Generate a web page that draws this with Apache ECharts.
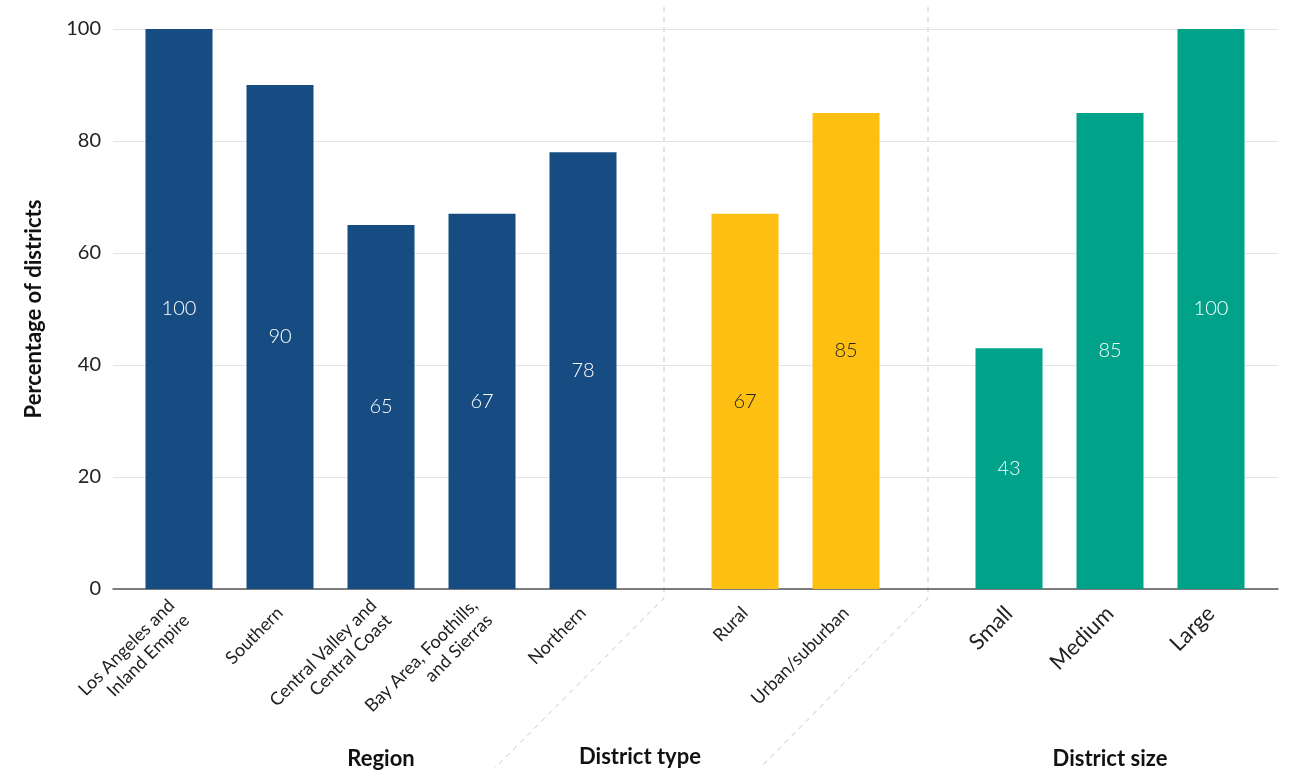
<!DOCTYPE html>
<html>
<head>
<meta charset="utf-8">
<script src="https://cdn.jsdelivr.net/npm/echarts@6/dist/echarts.min.js"></script>
<style>
  html, body { margin: 0; padding: 0; background: #fff; }
  #main { width: 1300px; height: 776px; }
</style>
</head>
<body>
<div id="main"></div>
<script>
// data
var regionNames = ["Los Angeles and\nInland Empire", "Southern", "Central Valley and\nCentral Coast", "Bay Area, Foothills,\nand Sierras", "Northern"];
var regionValues = [100, 90, 65, 67, 78];
var typeNames = ["Rural", "Urban/suburban"];
var typeValues = [67, 85];
var sizeNames = ["Small", "Medium", "Large"];
var sizeValues = [43, 85, 100];
var yTicks = [0, 20, 40, 60, 80, 100];

var font = "Lato";
var chart = echarts.init(document.getElementById("main"));

// shared vertical layout
var gridTop = 29, gridBottom = 187;

var titleStyle = {
    fontFamily: font,
    fontSize: 22,
    fontWeight: "bold",
    color: "#111"
};

function catAxis(idx, names, title, fontSize, margin) {
    return {
        type: "category",
        gridIndex: idx,
        data: names,
        axisLine: {show: false},
        axisTick: {show: false},
        axisLabel: {
            interval: 0,
            rotate: 45,
            margin: margin,
            fontFamily: font,
            fontSize: fontSize,
            color: "#222",
            lineHeight: fontSize + 3
        },
        name: title,
        nameLocation: "middle",
        nameGap: 159,
        nameTextStyle: titleStyle
    };
}

function hiddenY(idx) {
    return {type: "value", gridIndex: idx, min: 0, max: 100, show: false};
}

function barSeries(idx, values, color, labelColor) {
    return {
        type: "bar",
        xAxisIndex: idx,
        yAxisIndex: idx,
        data: values,
        barWidth: 67,
        itemStyle: {color: color},
        label: {
            show: true,
            position: "inside",
            fontFamily: font,
            fontSize: 20,
            fontWeight: 300,
            color: labelColor
        },
        silent: true
    };
}

function gridAt(left, width) {
    var g = {top: gridTop, bottom: gridBottom, left: left, outerBoundsMode: "none", containLabel: false};
    if (width) { g.width = width; } else { g.right = 22; }
    return g;
}

var option = {
    animation: false,
    backgroundColor: "#fff",
    grid: [
        gridAt(113),
        gridAt(128.5, 505),
        gridAt(694.5, 202),
        gridAt(958.5, 303)
    ],
    xAxis: [
        {
            type: "value", gridIndex: 0, min: 0, max: 1,
            axisLine: {show: true, lineStyle: {color: "#555", width: 1.5}},
            axisTick: {show: false},
            axisLabel: {show: false},
            splitLine: {show: false}
        },
        catAxis(1, regionNames, "Region", 18, 21),
        catAxis(2, typeNames, "", 18, 21),
        catAxis(3, sizeNames, "District size", 22, 21)
    ],
    yAxis: [
        {
            type: "value", gridIndex: 0, min: 0, max: 100, interval: 20,
            axisLine: {show: false},
            axisTick: {show: false},
            axisLabel: {
                margin: 12,
                fontFamily: font,
                fontSize: 20,
                color: "#222",
                formatter: function (v) { return yTicks.indexOf(v) >= 0 ? String(v) : ""; }
            },
            splitLine: {lineStyle: {color: "#e4e4e4", width: 1}},
            name: "Percentage of districts",
            nameLocation: "middle",
            nameGap: 68,
            nameTextStyle: titleStyle
        },
        hiddenY(1), hiddenY(2), hiddenY(3)
    ],
    series: [
        barSeries(1, regionValues, "#174c82", "#fff"),
        barSeries(2, typeValues, "#fcbf12", "#222"),
        barSeries(3, sizeValues, "#00a38a", "#fff")
    ],
    graphic: [
        {
            type: "polyline",
            shape: {points: [[664, 7], [664, 598], [495, 768]]},
            style: {stroke: "#c8c8c8", lineWidth: 1, lineDash: [5, 5], fill: null},
            silent: true
        },
        {
            type: "polyline",
            shape: {points: [[928, 7], [928, 598], [760, 768]]},
            style: {stroke: "#c8c8c8", lineWidth: 1, lineDash: [5, 5], fill: null},
            silent: true
        },
        {
            type: "text",
            x: 640,
            y: 757,
            style: {
                text: "District type",
                font: "bold 22px " + font,
                fill: "#111",
                align: "center",
                verticalAlign: "middle"
            },
            silent: true
        }
    ]
};

chart.setOption(option);
</script>
</body>
</html>
